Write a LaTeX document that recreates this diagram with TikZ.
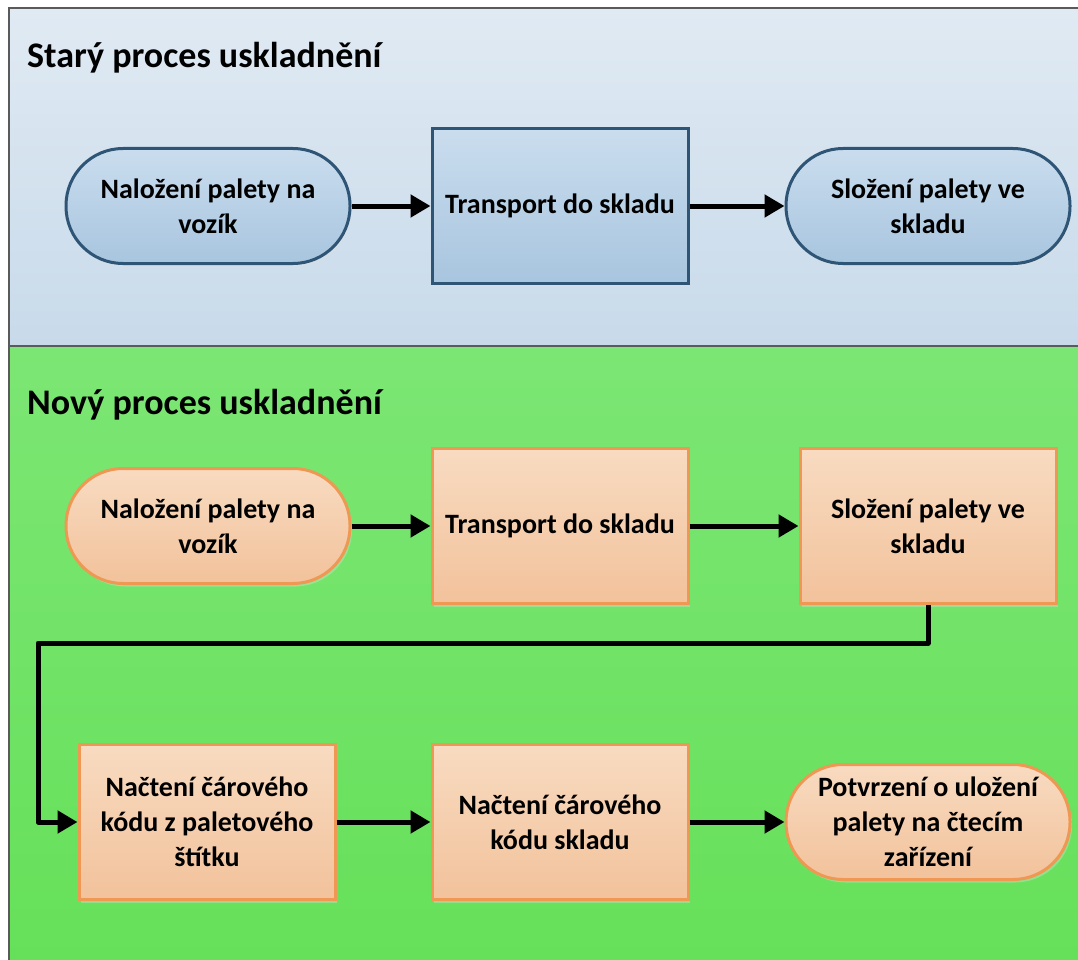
\documentclass[tikz,border=0pt]{standalone}
\usepackage{fontspec}
\setmainfont{Carlito}
\usetikzlibrary{arrows.meta,shadows}
\definecolor{blueTop}{HTML}{E0EAF3}
\definecolor{blueBot}{HTML}{C8DAEA}
\definecolor{greenTop}{HTML}{7CE674}
\definecolor{greenBot}{HTML}{66E05A}
\definecolor{bnTop}{HTML}{CADDEE}
\definecolor{bnBot}{HTML}{A8C5DF}
\definecolor{bnLine}{HTML}{2E5576}
\definecolor{onTop}{HTML}{F8DBC1}
\definecolor{onBot}{HTML}{F2C29B}
\definecolor{onLine}{HTML}{EE9853}
\definecolor{frameLine}{HTML}{5A5A5A}
\begin{document}
\begin{tikzpicture}[x=1pt,y=-1pt,
  txt/.style={font=\fontsize{28}{35}\selectfont\bfseries, align=center, text=black},
  shad/.style={drop shadow={shadow xshift=2pt, shadow yshift=-3pt, fill=white!75!gray, opacity=0.35}},
  bluebase/.style={txt, shad, draw=bnLine, line width=3pt, top color=bnTop, bottom color=bnBot},
  orangebase/.style={txt, shad, draw=onLine, line width=3pt, top color=onTop, bottom color=onBot},
  term/.style={rectangle, rounded corners=57pt, minimum width=284pt, minimum height=115pt, inner sep=0pt},
  procbox/.style={rectangle, minimum width=256pt, minimum height=155pt, inner sep=0pt},
  flow/.style={line width=5pt, line join=round, -{Triangle[length=20pt,width=22pt]}},
  paneltitle/.style={anchor=base west, inner sep=0pt, font=\fontsize{36}{42}\selectfont\bfseries, text=black}
]
\useasboundingbox (0,0) rectangle (1078,960);
% panels
\fill[top color=blueTop, bottom color=blueBot] (9,8) rectangle (1078,346);
\fill[top color=greenTop, bottom color=greenBot] (9,346) rectangle (1078,960);
\draw[frameLine, line width=1.5pt] (9,960) -- (9,8) -- (1078,8);
\draw[frameLine, line width=1.5pt] (9,346) -- (1078,346);
% titles
\node[paneltitle] (t1) at (27,68) {Starý proces uskladnění};
\node[paneltitle] (t2) at (27,414) {Nový proces uskladnění};
% old process
\node[bluebase, term] (a1) at (208,206) {Naložení palety na\\vozík};
\node[bluebase, procbox] (a2) at (560,206) {Transport do skladu};
\node[bluebase, term] (a3) at (928,206) {Složení palety ve\\skladu};
\draw[flow] (a1) -- (a2);
\draw[flow] (a2) -- (a3);
% new process
\node[orangebase, term] (b1) at (208,526) {Naložení palety na\\vozík};
\node[orangebase, procbox] (b2) at (560,526) {Transport do skladu};
\node[orangebase, procbox] (b3) at (928,526) {Složení palety ve\\skladu};
\node[orangebase, procbox] (b4) at (207,822) {Načtení čárového\\kódu z paletového\\štítku};
\node[orangebase, procbox] (b5) at (560,822) {Načtení čárového\\kódu skladu};
\node[orangebase, term] (b6) at (928,822) {Potvrzení o uložení\\palety na čtecím\\zařízení};
\draw[flow] (b1) -- (b2);
\draw[flow] (b2) -- (b3);
\coordinate (c1) at (928,643);
\coordinate (c2) at (38,643);
\draw[flow] (b3.south) -- (c1) -- (c2) |- (b4.west);
\draw[flow] (b4) -- (b5);
\draw[flow] (b5) -- (b6);
\end{tikzpicture}
\end{document}
